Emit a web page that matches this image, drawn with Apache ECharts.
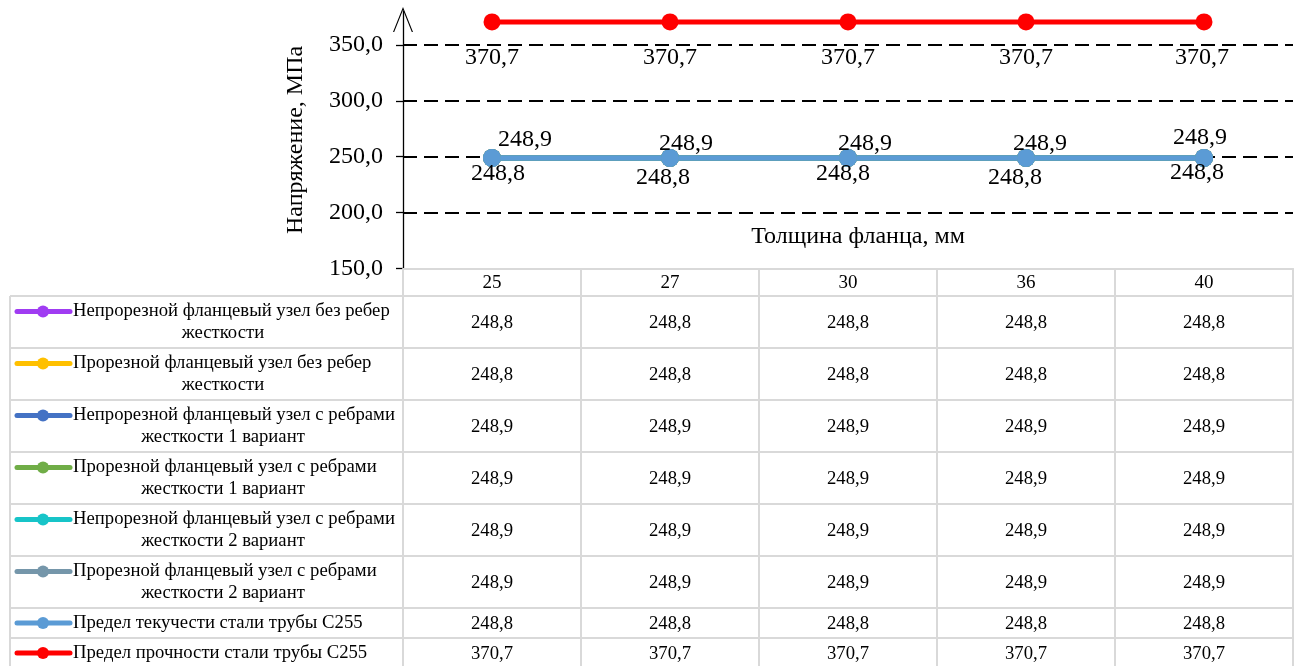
<!DOCTYPE html>
<html>
<head>
<meta charset="utf-8">
<script src="https://cdn.jsdelivr.net/npm/echarts@6/dist/echarts.min.js"></script>
<style>
  html, body { margin: 0; padding: 0; background: #ffffff; }
  #chart { width: 1304px; height: 666px; }
</style>
</head>
<body>
<div id="chart"></div>
<script>
// Flange thickness, mm (categories)
const thickness = ['25', '27', '30', '36', '40'];

// Stress values, MPa
const solidNoRibs   = [248.8, 248.8, 248.8, 248.8, 248.8];
const slottedNoRibs = [248.8, 248.8, 248.8, 248.8, 248.8];
const solidRibs1    = [248.9, 248.9, 248.9, 248.9, 248.9];
const slottedRibs1  = [248.9, 248.9, 248.9, 248.9, 248.9];
const solidRibs2    = [248.9, 248.9, 248.9, 248.9, 248.9];
const slottedRibs2  = [248.9, 248.9, 248.9, 248.9, 248.9];
const yieldC255     = [248.8, 248.8, 248.8, 248.8, 248.8];
const strengthC255  = [370.7, 370.7, 370.7, 370.7, 370.7];

// Series names, split into the two lines shown in the data table
const seriesLines = [
  ['Непрорезной фланцевый узел без ребер', 'жесткости'],
  ['Прорезной фланцевый узел без ребер', 'жесткости'],
  ['Непрорезной фланцевый узел с ребрами', 'жесткости 1 вариант'],
  ['Прорезной фланцевый узел с ребрами', 'жесткости 1 вариант'],
  ['Непрорезной фланцевый узел с ребрами', 'жесткости 2 вариант'],
  ['Прорезной фланцевый узел с ребрами', 'жесткости 2 вариант'],
  ['Предел текучести стали трубы С255'],
  ['Предел прочности стали трубы С255']
];

// Value axis ticks and dashed grid levels
const yTicks = [150, 200, 250, 300, 350];
const gridLevels = [200, 250, 300, 350];

const allValues = [solidNoRibs, slottedNoRibs, solidRibs1, slottedRibs1,
                   solidRibs2, slottedRibs2, yieldC255, strengthC255];
const colors = ['#a03cf2', '#ffc000', '#4472c4', '#70ad47',
                '#17c4c8', '#7596aa', '#5b9bd5', '#ff0000'];

const FONT = "'Liberation Serif', 'Times New Roman', serif";
const fmt1 = v => v.toFixed(1).replace('.', ',');

// Manual data-label placement (pixel offsets from each marker)
const upperLabelShift = [[33, -18], [16, -14], [17, -14], [14, -14], [-4, -20]];
const lowerLabelShift = [[6, 16], [-7, 20], [-5, 16], [-11, 20], [-7, 15]];
const topLabelShift   = [[0, 36], [0, 36], [0, 36], [0, 36], [-2, 36]];

function labelled(values, shifts) {
  return values.map((v, i) => ({
    value: v,
    label: {
      show: true, position: 'inside', offset: shifts[i],
      formatter: p => fmt1(p.value),
      color: '#000', fontFamily: FONT, fontSize: 24
    }
  }));
}

const chart = echarts.init(document.getElementById('chart'), null, { renderer: 'canvas' });

const series = allValues.map((vals, i) => {
  let data = vals;
  if (i === 5) data = labelled(vals, upperLabelShift);
  if (i === 6) data = labelled(vals, lowerLabelShift);
  if (i === 7) data = labelled(vals, topLabelShift);
  const s = {
    name: seriesLines[i].join(' '),
    type: 'line',
    z: 3,
    data: data,
    symbol: 'circle',
    symbolSize: i === 7 ? 17 : 18,
    lineStyle: { color: colors[i], width: 5 },
    itemStyle: { color: colors[i] },
    label: { show: false },
    emphasis: { disabled: true },
    animation: false
  };
  if (i === 0) {
    s.markLine = {
      silent: true, symbol: 'none', animation: false, z: 1,
      label: { show: false },
      lineStyle: { color: '#000', type: [14, 7], width: 1.8 },
      data: gridLevels.map(v => ({ yAxis: v }))
    };
  }
  return s;
});

chart.setOption({
  backgroundColor: '#ffffff',
  animation: false,
  grid: { left: 403, right: 11, top: 11.5, bottom: 397.7, containLabel: false },
  xAxis: {
    type: 'category',
    data: thickness,
    boundaryGap: true,
    axisLine: { show: true, lineStyle: { color: '#d9d9d9', width: 2 } },
    axisTick: { show: true, length: 400, lineStyle: { color: '#d9d9d9', width: 2 } },
    axisLabel: { margin: 5, color: '#000', fontFamily: FONT, fontSize: 19 },
    splitLine: { show: false },
    name: 'Толщина фланца, мм',
    nameLocation: 'middle',
    nameGap: -44,
    nameTextStyle: { color: '#000', fontFamily: FONT, fontSize: 24, padding: [0, 0, 0, 20] }
  },
  yAxis: {
    type: 'value',
    min: 150, max: 380, interval: 50,
    axisLine: {
      show: true,
      lineStyle: { color: '#000', width: 1.3 },
      symbol: ['none', 'path://M0,25 L10,0 L20,25 L18.8,25 L10,3 L1.2,25 Z'],
      symbolSize: [20, 25],
      symbolOffset: [0, -8]
    },
    axisTick: { show: true, length: 7, lineStyle: { color: '#000', width: 1.3 }, customValues: yTicks },
    axisLabel: {
      customValues: yTicks, margin: 20, formatter: v => fmt1(v),
      color: '#000', fontFamily: FONT, fontSize: 24
    },
    splitLine: { show: false },
    name: 'Напряжение, МПа',
    nameLocation: 'middle',
    nameRotate: 90,
    nameGap: 95,
    nameTextStyle: { color: '#000', fontFamily: FONT, fontSize: 24 }
  },
  series: series
});

// Data table under the plot: legend keys, series names and values per column
const tableLeft = 10;
const tableRight = 1293;
const rowTop = 296;
const rowHeights = [52, 52, 52, 52, 52, 52, 30, 30];
const gray = '#d9d9d9';
const elems = [];

let y = rowTop;
const rowBounds = [y];
rowHeights.forEach(h => { y += h; rowBounds.push(y); });

rowBounds.forEach(by => {
  elems.push({ type: 'line', silent: true,
    shape: { x1: tableLeft, y1: by, x2: tableRight, y2: by },
    style: { stroke: gray, lineWidth: 2 } });
});
elems.push({ type: 'line', silent: true,
  shape: { x1: tableLeft, y1: rowTop, x2: tableLeft, y2: 670 },
  style: { stroke: gray, lineWidth: 2 } });

const colX = thickness.map(c => chart.convertToPixel({ xAxisIndex: 0 }, c));
const tableFont = '18.7px ' + FONT;

seriesLines.forEach((lines, i) => {
  const top = rowBounds[i];
  const h = rowHeights[i];
  const keyY = lines.length > 1 ? top + 15.5 : top + h / 2;
  elems.push({ type: 'line', silent: true,
    shape: { x1: 17, y1: keyY, x2: 70, y2: keyY },
    style: { stroke: colors[i], lineWidth: 5, lineCap: 'round' } });
  elems.push({ type: 'circle', silent: true,
    shape: { cx: 43, cy: keyY, r: 6 },
    style: { fill: colors[i] } });
  elems.push({ type: 'text', silent: true,
    style: { text: lines[0], x: 73, y: keyY, align: 'left', verticalAlign: 'middle',
      fill: '#000', font: tableFont } });
  if (lines.length > 1) {
    elems.push({ type: 'text', silent: true,
      style: { text: lines[1], x: 223, y: top + 37, align: 'center', verticalAlign: 'middle',
        fill: '#000', font: tableFont } });
  }
  allValues[i].forEach((v, j) => {
    elems.push({ type: 'text', silent: true,
      style: { text: fmt1(v), x: colX[j], y: top + h / 2 + 1, align: 'center', verticalAlign: 'middle',
        fill: '#000', font: tableFont } });
  });
});

chart.setOption({ graphic: elems });
</script>
</body>
</html>
